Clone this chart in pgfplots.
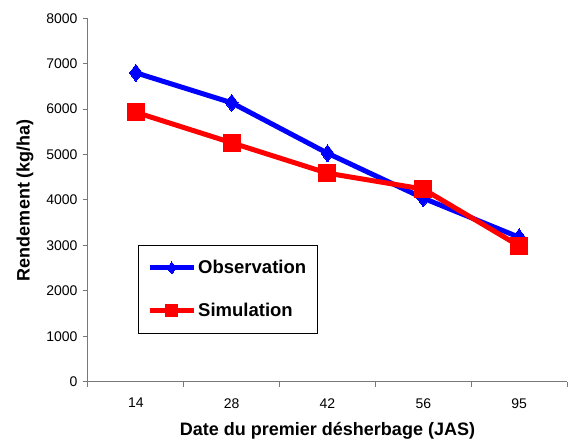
\documentclass[border=0pt]{standalone}
\usepackage{pgfplots}
\pgfplotsset{compat=1.18}
\usepackage{fontspec}
\setmainfont{Liberation Sans}
\definecolor{obs}{RGB}{0,0,255}
\definecolor{sim}{RGB}{255,0,0}
\definecolor{axgray}{RGB}{120,120,120}
\begin{document}
\begin{tikzpicture}
\useasboundingbox (0,0) rectangle (568pt,441pt);
\begin{axis}[
  at={(88pt,59.3pt)}, anchor=south west,
  scale only axis, width=479pt, height=363.4pt,
  xmin=0.5, xmax=5.5, ymin=0, ymax=8000,
  axis x line*=bottom, axis y line*=left,
  axis line style={-, axgray, line width=1pt},
  xtick={1,2,3,4,5}, xticklabels={14,28,42,56,95},
  major x tick style={draw=none},
  minor xtick={0.5,1.5,2.5,3.5,4.5,5.5},
  minor tick length=5pt,
  every minor tick/.style={axgray, line width=1pt},
  ytick={0,1000,...,8000},
  major tick length=5pt,
  every major tick/.append style={axgray, line width=1pt},
  tick align=outside,
  /pgf/number format/assume math mode=true,
  scaled y ticks=false,
  yticklabel style={/pgf/number format/1000 sep={}, font=\fontsize{14}{16}\selectfont, xshift=-2pt},
  xticklabel style={font=\fontsize{14}{16}\selectfont, yshift=-8pt},
  xlabel={Date du premier désherbage (JAS)},
  ylabel={Rendement (kg/ha)},
  xlabel style={font=\bfseries\fontsize{18}{20}\selectfont, at={(axis description cs:0.5,0)}, yshift=-37pt},
  ylabel style={font=\bfseries\fontsize{18}{20}\selectfont, at={(axis description cs:0,0.5)}, yshift=51pt},
  legend style={at={(0.104,0.376)}, anchor=north west, draw=black, line width=0.8pt,
    font=\bfseries\fontsize{18.5}{20}\selectfont, inner xsep=9pt, inner ysep=13pt, row sep=24pt,
    cells={anchor=west}},
  legend image code/.code={%
    \draw[#1, mark=none] (0pt,0pt) -- (44pt,0pt);
    \draw[#1, only marks, mark size=6pt] plot coordinates {(22pt,0pt)};},
]
\addplot[obs, line width=5pt, mark=diamond*, mark size=8.5pt, mark options={fill=obs, line width=0pt}]
  coordinates {(1,6800) (2,6140) (3,5030) (4,4040) (5,3180)};
\addlegendentry{Observation}
\addplot[sim, line width=5pt, mark=square*, mark size=8.5pt, mark options={fill=sim, line width=0pt}]
  coordinates {(1,5930) (2,5260) (3,4590) (4,4240) (5,2990)};
\addlegendentry{Simulation}
\end{axis}
\end{tikzpicture}
\end{document}
